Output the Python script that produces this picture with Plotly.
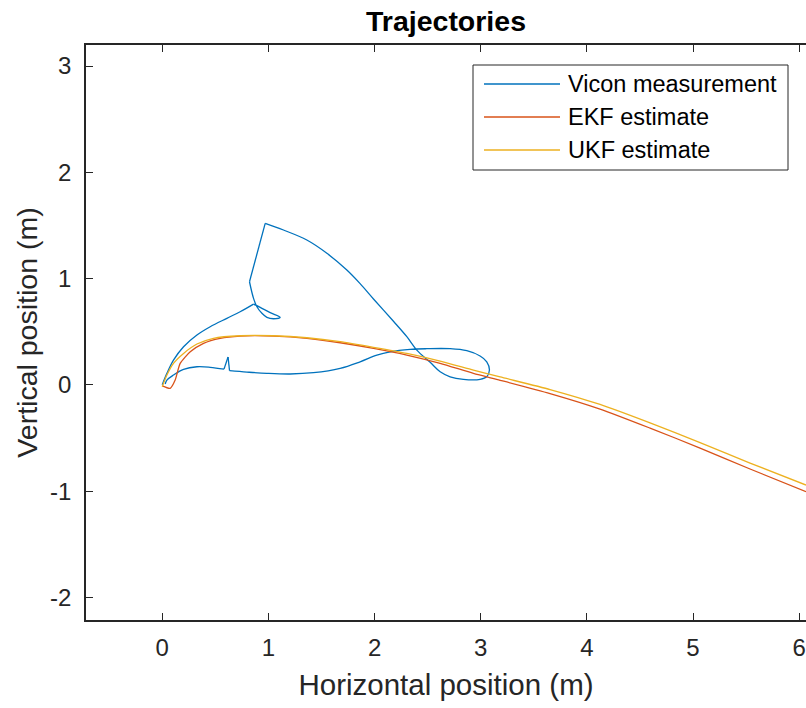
import plotly.graph_objects as go

# Vicon measurement (blue) – one continuous path
vicon_x = [0.0, 0.044, 0.106, 0.201, 0.327, 0.452, 0.609, 0.734, 0.860, 0.923, 1.017, 1.111,
           1.048, 0.986, 0.939, 0.892, 0.860, 0.822, 0.970, 1.142, 1.362, 1.551, 1.739, 1.864,
           1.990, 2.178, 2.304, 2.398, 2.524, 2.618, 2.712, 2.837, 2.994, 3.057, 3.082, 3.057,
           2.994, 2.869, 2.712, 2.492, 2.335, 2.147, 2.022, 1.864, 1.676, 1.425, 1.205, 0.986,
           0.798, 0.634, 0.620, 0.582, 0.452, 0.327, 0.201, 0.106, 0.044, 0.028]
vicon_y = [0.0, 0.108, 0.233, 0.359, 0.469, 0.547, 0.626, 0.688, 0.760, 0.729, 0.679, 0.635,
           0.622, 0.635, 0.673, 0.735, 0.814, 0.970, 1.520, 1.457, 1.363, 1.238, 1.080, 0.952,
           0.808, 0.598, 0.453, 0.327, 0.212, 0.123, 0.076, 0.052, 0.052, 0.076, 0.139, 0.217,
           0.271, 0.321, 0.340, 0.340, 0.334, 0.311, 0.280, 0.217, 0.155, 0.114, 0.102, 0.108,
           0.120, 0.133, 0.262, 0.148, 0.165, 0.170, 0.146, 0.092, 0.045, 0.008]
# indices of the sharp corners in the Vicon path
vicon_corners = [8, 17, 18, 49, 50, 51]

# EKF estimate (red)
ekf_x = [0.0, 0.075, 0.122, 0.169, 0.264, 0.389, 0.546, 0.734, 1.048, 1.363, 1.676, 1.990,
         2.304, 2.618, 2.931, 3.183, 3.653, 4.124, 4.595, 5.066, 5.537, 6.064]
ekf_y = [-0.01, -0.033, 0.045, 0.202, 0.311, 0.391, 0.438, 0.459, 0.459, 0.438, 0.396, 0.343,
         0.280, 0.202, 0.108, 0.043, -0.082, -0.228, -0.407, -0.595, -0.792, -1.006]

# UKF estimate (yellow)
ukf_x = [0.0, 0.044, 0.106, 0.201, 0.327, 0.483, 0.734, 1.048, 1.363, 1.676, 1.990, 2.304,
         2.618, 2.931, 3.183, 3.653, 4.124, 4.595, 5.066, 5.537, 6.064]
ukf_y = [-0.018, 0.092, 0.202, 0.296, 0.384, 0.438, 0.462, 0.462, 0.443, 0.406, 0.353, 0.296,
         0.224, 0.139, 0.074, -0.044, -0.185, -0.359, -0.543, -0.736, -0.943]

series_names = ["Vicon measurement", "EKF estimate", "UKF estimate"]
series_colors = ["#0072BD", "#D95319", "#EDB120"]

x_ticks = [0, 1, 2, 3, 4, 5, 6]
y_ticks = [-2, -1, 0, 1, 2, 3]

FONT = "Liberation Sans, Arial, Helvetica, sans-serif"
AX = "#262626"
LW = 1.3

fig = go.Figure()

# Vicon path, split at its sharp corners so the smooth parts stay smooth
bounds = [0] + vicon_corners + [len(vicon_x) - 1]
for a, b in zip(bounds[:-1], bounds[1:]):
    fig.add_trace(go.Scatter(x=vicon_x[a:b + 1], y=vicon_y[a:b + 1], mode="lines",
                             line=dict(color=series_colors[0], width=LW, shape="spline",
                                       smoothing=1.0),
                             showlegend=False, hoverinfo="skip"))
fig.add_trace(go.Scatter(x=ekf_x, y=ekf_y, mode="lines", showlegend=False,
                         line=dict(color=series_colors[1], width=LW, shape="spline", smoothing=0.6)))
fig.add_trace(go.Scatter(x=ukf_x, y=ukf_y, mode="lines", showlegend=False,
                         line=dict(color=series_colors[2], width=LW, shape="spline", smoothing=0.6)))

# Legend box drawn in paper coordinates (MATLAB style)
W, H, L, T = 720.0, 575.0, 86.0, 45.0
def px(xp):
    return (xp - L) / W
def py(yp):
    return (T + H - yp) / H

shapes = [dict(type="rect", xref="paper", yref="paper", x0=px(473), x1=px(788),
               y0=py(170), y1=py(65), line=dict(color=AX, width=1), fillcolor="white",
               layer="above")]
annotations = []
for i, (name, col) in enumerate(zip(series_names, series_colors)):
    yy = py(84 + i * 33)
    shapes.append(dict(type="line", xref="paper", yref="paper", x0=px(484), x1=px(560),
                       y0=yy, y1=yy, line=dict(color=col, width=LW), layer="above"))
    annotations.append(dict(text=name, xref="paper", yref="paper", x=px(566), y=yy,
                            xanchor="left", yanchor="middle", showarrow=False,
                            font=dict(size=23.5, color="black", family=FONT)))

fig.update_layout(
    width=806, height=708,
    margin=dict(l=86, r=0, t=45, b=88),
    paper_bgcolor="white", plot_bgcolor="white",
    font=dict(family=FONT, color=AX),
    title=dict(text="<b>Trajectories</b>", x=0.5, xref="paper", xanchor="center",
               y=1 - 21 / 708, yref="container", yanchor="middle",
               font=dict(size=28.5, color="black", family=FONT)),
    showlegend=False,
    shapes=shapes,
    annotations=annotations,
    xaxis=dict(range=[-0.718, 6.064], tickvals=x_ticks, ticktext=[str(v) for v in x_ticks],
               ticks="inside", ticklen=7,
               tickwidth=1.3, tickcolor=AX, showline=True, linecolor=AX, linewidth=1.5,
               mirror="ticks", showgrid=False, zeroline=False,
               tickfont=dict(size=24, color=AX), ticklabelstandoff=5,
               title=dict(text="Horizontal position (m)", font=dict(size=29.5, color=AX), standoff=15)),
    yaxis=dict(range=[-2.213, 3.198], tickvals=y_ticks, ticktext=[str(v) for v in y_ticks],
               ticks="inside", ticklen=7,
               tickwidth=1.3, tickcolor=AX, showline=True, linecolor=AX, linewidth=1.5,
               mirror=False, showgrid=False, zeroline=False,
               tickfont=dict(size=24, color=AX), ticklabelstandoff=8,
               title=dict(text="Vertical position (m)", font=dict(size=28.5, color=AX), standoff=4)),
)

fig.write_html("out.html")
